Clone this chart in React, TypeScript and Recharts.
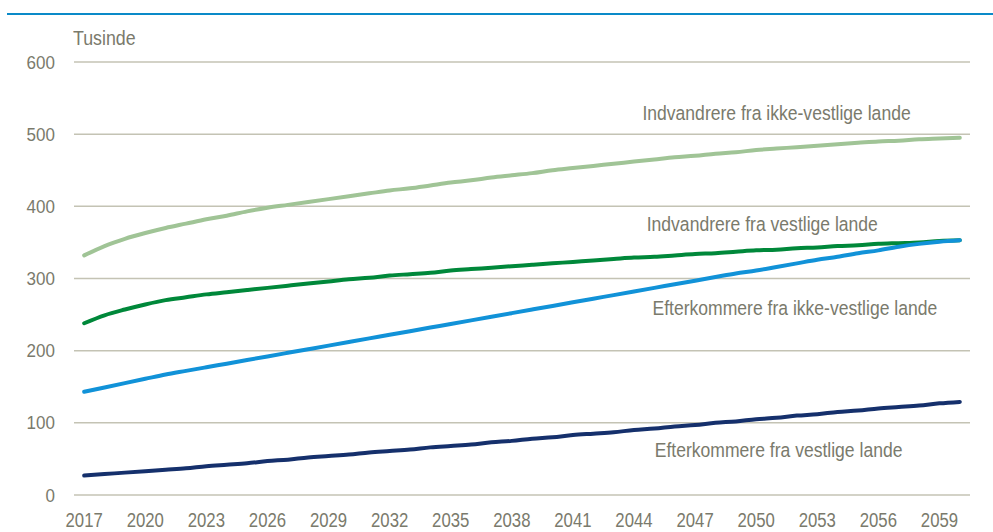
import React from 'react';
import {
  LineChart,
  Line,
  XAxis,
  YAxis,
  CartesianGrid,
  ReferenceDot,
} from 'recharts';

const years = [
  2017, 2018, 2019, 2020, 2021, 2022, 2023, 2024, 2025, 2026, 2027,
  2028, 2029, 2030, 2031, 2032, 2033, 2034, 2035, 2036, 2037, 2038,
  2039, 2040, 2041, 2042, 2043, 2044, 2045, 2046, 2047, 2048, 2049,
  2050, 2051, 2052, 2053, 2054, 2055, 2056, 2057, 2058, 2059, 2060,
];

const indvIkkeVestlige = [
  332, 345, 355, 363, 370, 376, 382, 387, 393, 398, 402,
  406, 410, 414, 418, 422, 425, 429, 433, 436, 440, 443,
  446, 450, 453, 456, 459, 462, 465, 468, 470, 473, 475,
  478, 480, 482, 484, 486, 488, 490, 491, 493, 494, 495,
];

const indvVestlige = [
  238, 249, 257, 264, 270, 274, 278, 281, 284, 287, 290,
  293, 296, 299, 301, 304, 306, 308, 311, 313, 315, 317,
  319, 321, 323, 325, 327, 329, 330, 332, 334, 335, 337,
  339, 340, 342, 343, 345, 346, 348, 349, 350, 352, 353,
];

const efterIkkeVestlige = [
  143, 149, 155, 161, 167, 172, 177, 182, 187, 192, 197,
  202, 207, 212, 217, 222, 227, 232, 237, 242, 247, 252,
  257, 262, 267, 272, 277, 282, 287, 292, 297, 302, 307,
  311, 316, 321, 326, 330, 335, 339, 344, 348, 351, 353,
];

const efterVestlige = [
  27, 29, 31, 33, 35, 37, 40, 42, 44, 47, 49,
  52, 54, 56, 59, 61, 63, 66, 68, 70, 73, 75,
  78, 80, 83, 85, 87, 90, 92, 95, 97, 100, 102,
  105, 107, 110, 112, 115, 117, 120, 122, 124, 127, 129,
];

const xTicks = [2017, 2020, 2023, 2026, 2029, 2032, 2035, 2038, 2041, 2044, 2047, 2050, 2053, 2056, 2059];
const yTicks = [0, 100, 200, 300, 400, 500, 600];

const data = years.map((year, i) => ({
  year,
  a: indvIkkeVestlige[i],
  b: indvVestlige[i],
  c: efterIkkeVestlige[i],
  d: efterVestlige[i],
}));

const FONT = "'Liberation Sans', Arial, sans-serif";
const TEXT = '#7a7a6c';

// the original uses a narrow face; squeeze Liberation Sans horizontally instead
const NarrowText = ({ x, y, anchor, size, sx, children }: any) => (
  <g transform={`translate(${x},${y}) scale(${sx},1)`}>
    <text x={0} y={0} textAnchor={anchor} fontSize={size} fontFamily={FONT} fill={TEXT}>
      {children}
    </text>
  </g>
);

const XTick = (props: any) => (
  <NarrowText x={props.x} y={props.y + 24} anchor="middle" size={19.5} sx={0.86}>
    {props.payload.value}
  </NarrowText>
);

const YTick = (props: any) => (
  <NarrowText x={props.x} y={props.y + 6.5} anchor="end" size={18.5} sx={0.92}>
    {props.payload.value}
  </NarrowText>
);

const seriesLabel = (value: string) => ({
  content: (p: any) => (
    <NarrowText x={p.viewBox.x} y={p.viewBox.y + 7} anchor="middle" size={19.5} sx={0.9}>
      {value}
    </NarrowText>
  ),
});

export default function App() {
  return (
    <div style={{ position: 'absolute', left: 0, top: 0, width: 993, height: 532, background: '#fff' }}>
      <div
        style={{
          position: 'absolute',
          left: 7,
          top: 13,
          width: 986,
          height: 2,
          background: '#0a8ac8',
        }}
      />
      <div
        style={{
          position: 'absolute',
          left: 73,
          top: 27,
          fontFamily: FONT,
          fontSize: 20,
          color: TEXT,
          transform: 'scaleX(0.89)',
          transformOrigin: 'left top',
        }}
      >
        Tusinde
      </div>
      <LineChart
        width={993}
        height={532}
        data={data}
        margin={{ top: 62, right: 23, bottom: 7, left: 14 }}
      >
        <CartesianGrid vertical={false} stroke="#c4c3b4" strokeWidth={1.5} />
        <XAxis
          dataKey="year"
          type="number"
          domain={[2016.5, 2060.5]}
          ticks={xTicks}
          interval={0}
          axisLine={false}
          tickLine={false}
          tickMargin={2}
          height={30}
          tick={<XTick />}
        />
        <YAxis
          domain={[0, 600]}
          ticks={yTicks}
          axisLine={false}
          tickLine={false}
          tickMargin={13}
          width={60}
          tick={<YTick />}
        />
        <Line type="monotone" dataKey="a" stroke="#a0c496" strokeWidth={4} dot={false} isAnimationActive={false} strokeLinecap="round" />
        <Line type="monotone" dataKey="b" stroke="#00883a" strokeWidth={4} dot={false} isAnimationActive={false} strokeLinecap="round" />
        <Line type="monotone" dataKey="c" stroke="#1192d8" strokeWidth={4} dot={false} isAnimationActive={false} strokeLinecap="round" />
        <Line type="monotone" dataKey="d" stroke="#15306c" strokeWidth={4} dot={false} isAnimationActive={false} strokeLinecap="round" />
        <ReferenceDot x={2051} y={530} r={0} stroke="none" fill="none" label={seriesLabel('Indvandrere fra ikke-vestlige lande')} />
        <ReferenceDot x={2050.3} y={375} r={0} stroke="none" fill="none" label={seriesLabel('Indvandrere fra vestlige lande')} />
        <ReferenceDot x={2051.9} y={259} r={0} stroke="none" fill="none" label={seriesLabel('Efterkommere fra ikke-vestlige lande')} />
        <ReferenceDot x={2051.1} y={62} r={0} stroke="none" fill="none" label={seriesLabel('Efterkommere fra vestlige lande')} />
      </LineChart>
    </div>
  );
}
